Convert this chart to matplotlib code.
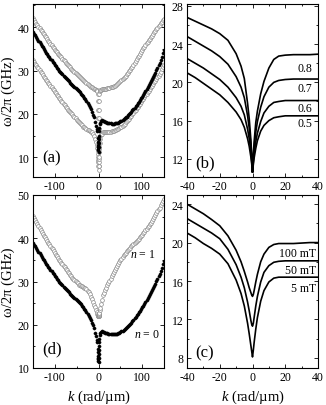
import matplotlib
matplotlib.use("Agg")
import matplotlib.pyplot as plt
from matplotlib.ticker import MultipleLocator
import numpy as np

plt.rcParams['font.family'] = ['Liberation Serif', 'DejaVu Serif']
plt.rcParams['mathtext.fontset'] = 'custom'
plt.rcParams['mathtext.rm'] = 'Liberation Serif'
plt.rcParams['mathtext.it'] = 'Liberation Serif:italic'
plt.rcParams['axes.unicode_minus'] = False

# ---------------- data: panels (a) and (d) ----------------
# wave-vector sampling (rad/um): left branch, central region, right branch
K_LEFT = list(np.arange(-150, -9.9, 2.5))
K_MID = [-8, -6, -4, -3, -2, -1.5, -1, -0.75, -0.5, -0.25, 0, 0.25, 0.5, 0.75, 1, 1.5, 2, 3, 4, 6, 8]
K_RIGHT = list(np.arange(10, 150.1, 2.5))
K_MARK = K_LEFT + K_MID + K_RIGHT

UPPER_A = [42.0, 41.6, 41.2, 40.8, 40.4, 40.05, 39.7, 39.35, 39.0, 38.65, 38.3, 37.95, 37.6, 37.25, 36.9,
           36.55, 36.2, 35.85, 35.5, 35.15, 34.8, 34.5, 34.2, 33.9, 33.6, 33.3, 33.0, 32.7, 32.4, 32.1,
           31.8, 31.55, 31.3, 31.0, 30.7, 30.45, 30.2, 29.95, 29.7, 29.45, 29.2, 28.95, 28.7, 28.45, 28.2,
           28.0, 27.8, 27.55, 27.3, 27.1, 26.9, 26.7, 26.5, 26.3, 26.1, 25.95, 25.8,
           25.7, 25.6, 25.5, 25.3, 24.5, 23.0, 21.0, 19.0, 16.5, 12.5, 8.0, 12.5, 16.5, 19.0, 21.0, 23.0, 24.5, 25.3, 25.5, 25.6, 25.7,
           25.7, 25.75, 25.8, 25.85, 25.9, 25.95, 26.0, 26.1, 26.2, 26.3, 26.4, 26.55, 26.7, 26.9, 27.1,
           27.3, 27.5, 27.75, 28.0, 28.25, 28.5, 28.8, 29.1, 29.45, 29.8, 30.15, 30.5, 30.9, 31.3, 31.7,
           32.1, 32.55, 33.0, 33.45, 33.9, 34.3, 34.7, 35.1, 35.5, 35.9, 36.3, 36.65, 37.0, 37.35, 37.7,
           38.05, 38.4, 38.75, 39.1, 39.45, 39.8, 40.15, 40.5, 40.85, 41.2, 41.55, 41.9]

LOWER_A = [32.4, 32.0, 31.6, 31.25, 30.9, 30.5, 30.1, 29.75, 29.4, 29.0, 28.6, 28.25, 27.9, 27.55, 27.2,
           26.85, 26.5, 26.15, 25.8, 25.45, 25.1, 24.75, 24.4, 24.05, 23.7, 23.35, 23.0, 22.65, 22.3, 21.95,
           21.6, 21.3, 21.0, 20.7, 20.4, 20.15, 19.9, 19.6, 19.3, 19.0, 18.7, 18.45, 18.2, 17.9, 17.6,
           17.35, 17.1, 16.9, 16.7, 16.55, 16.4, 16.25, 16.1, 15.95, 15.8, 15.45, 15.0,
           14.3, 13.6, 12.8, 12.2, 11.4, 10.8, 10.0, 9.5, 8.9, 8.0, 7.0, 8.0, 8.9, 9.6, 10.2, 11.2, 12.0, 13.3, 14.2, 15.1, 15.5,
           15.8, 15.8, 15.8, 15.8, 15.8, 15.85, 15.9, 15.95, 16.0, 16.05, 16.1, 16.2, 16.3, 16.45, 16.6,
           16.75, 16.9, 17.1, 17.3, 17.55, 17.8, 18.05, 18.3, 18.6, 18.9, 19.25, 19.6, 19.95, 20.3, 20.65,
           21.0, 21.35, 21.7, 22.05, 22.4, 22.75, 23.1, 23.5, 23.9, 24.25, 24.6, 24.95, 25.3, 25.7, 26.1,
           26.5, 26.9, 27.25, 27.6, 28.0, 28.4, 28.8, 29.2, 29.75, 30.3, 30.8, 31.3]

N0 = [38.9, 38.5, 38.1, 37.7, 37.3, 36.9, 36.5, 36.1, 35.7, 35.3, 34.9, 34.5, 34.1, 33.75, 33.4,
      33.05, 32.7, 32.35, 32.0, 31.65, 31.3, 30.95, 30.6, 30.3, 30.0, 29.7, 29.4, 29.1, 28.8, 28.55,
      28.3, 28.05, 27.8, 27.5, 27.2, 26.95, 26.7, 26.45, 26.2, 25.95, 25.7, 25.45, 25.2, 24.95, 24.7,
      24.4, 24.1, 23.75, 23.4, 23.0, 22.6, 22.1, 21.6, 21.05, 20.5, 19.85, 19.2,
      18.2, 17.3, 16.5, 16.0, 14.5, 13.6, 12.8, 12.4, 12.0, 11.6, 11.3, 12.3, 13.3, 14.2, 15.0, 16.0, 16.8, 17.6, 18.0, 18.4, 18.5,
      18.4, 18.3, 18.2, 18.1, 18.0, 17.95, 17.9, 17.85, 17.8, 17.8, 17.8, 17.85, 17.9, 17.95, 18.0,
      18.15, 18.3, 18.45, 18.6, 18.8, 19.0, 19.2, 19.4, 19.7, 20.0, 20.25, 20.5, 20.8, 21.1, 21.45,
      21.8, 22.15, 22.5, 22.85, 23.2, 23.6, 24.0, 24.4, 24.8, 25.25, 25.7, 26.15, 26.6, 27.05, 27.5,
      28.0, 28.5, 29.0, 29.5, 30.05, 30.6, 31.2, 31.8, 32.5, 33.2, 34.0, 34.8]

N1 = [45.2, 44.7, 44.2, 43.75, 43.3, 42.85, 42.4, 41.95, 41.5, 41.05, 40.6, 40.2, 39.8, 39.4, 39.0,
      38.6, 38.2, 37.8, 37.4, 37.0, 36.6, 36.2, 35.8, 35.4, 35.0, 34.65, 34.3, 33.95, 33.6, 33.25,
      32.9, 32.55, 32.2, 31.85, 31.5, 31.2, 30.9, 30.6, 30.3, 30.05, 29.8, 29.55, 29.3, 29.15, 29.0,
      28.85, 28.7, 28.55, 28.4, 28.2, 27.9, 27.5, 27.0, 26.5, 25.9, 25.3, 24.6,
      24.0, 23.4, 22.9, 22.6, 22.3, 22.2, 22.1, 22.05, 22.0, 22.0, 22.0, 22.05, 22.1, 22.2, 22.3, 22.5, 22.8, 23.3, 23.8, 24.8, 25.8,
      26.8, 27.4, 28.0, 28.55, 29.1, 29.6, 30.1, 30.65, 31.2, 31.7, 32.2, 32.7, 33.2, 33.65, 34.1,
      34.5, 34.9, 35.3, 35.7, 36.05, 36.4, 36.7, 37.0, 37.3, 37.6, 37.85, 38.1, 38.35, 38.6, 38.85,
      39.1, 39.35, 39.6, 39.9, 40.2, 40.5, 40.8, 41.15, 41.5, 41.85, 42.2, 42.55, 42.9, 43.25, 43.6,
      44.0, 44.4, 44.85, 45.3, 45.75, 46.2, 46.65, 47.1, 47.6, 48.1, 48.6, 49.1]

# ---------------- data: panels (b) and (c) ----------------
K_LINE = [-40, -35, -30, -25, -20, -15, -10, -7, -5, -3, -2, -1, -0.5, 0, 0.5, 1, 2, 3, 5, 7, 10, 13, 16, 20, 25, 30, 35, 40]

B_LABELS = ['0.8', '0.7', '0.6', '0.5']
B_08 = [26.8, 26.4, 26.0, 25.6, 25.1, 24.4, 23.0, 21.7, 20.4, 17.8, 16.2, 14.0, 12.5, 10.6, 12.4, 13.8, 15.8, 17.0, 18.8, 20.1, 21.5, 22.4, 22.75, 22.85, 22.9, 22.9, 22.9, 22.95]
B_07 = [24.8, 24.3, 23.8, 23.3, 22.7, 21.9, 20.6, 19.5, 18.4, 16.5, 15.2, 13.5, 12.2, 10.6, 12.0, 13.2, 14.8, 15.9, 17.4, 18.5, 19.5, 20.0, 20.2, 20.3, 20.35, 20.35, 20.35, 20.35]
B_06 = [22.5, 22.0, 21.5, 20.9, 20.3, 19.5, 18.4, 17.5, 16.6, 15.1, 14.1, 12.8, 11.8, 10.6, 11.7, 12.6, 13.8, 14.7, 15.9, 16.8, 17.5, 17.9, 18.0, 18.1, 18.1, 18.1, 18.1, 18.1]
B_05 = [21.0, 20.5, 19.9, 19.3, 18.7, 17.9, 16.9, 16.1, 15.3, 14.1, 13.3, 12.2, 11.5, 10.6, 11.4, 12.1, 13.1, 13.9, 14.9, 15.5, 16.0, 16.3, 16.4, 16.5, 16.5, 16.5, 16.5, 16.5]
B_LABEL_Y = [21.5, 19.4, 17.3, 15.75]

C_LABELS = ['100 mT', '50 mT', '5 mT']
C_100 = [24.0, 23.5, 23.0, 22.4, 21.75, 20.7, 19.2, 18.0, 17.0, 15.9, 15.3, 14.8, 14.55, 14.4, 14.6, 15.0, 15.9, 16.7, 18.0, 18.8, 19.5, 19.8, 19.9, 19.9, 19.9, 19.95, 20.0, 20.0]
C_50 = [22.5, 22.0, 21.5, 21.0, 20.4, 19.3, 17.7, 16.4, 15.3, 13.8, 12.9, 11.9, 11.5, 11.3, 11.6, 12.2, 13.4, 14.4, 15.9, 16.9, 17.6, 17.95, 18.05, 18.1, 18.1, 18.1, 18.1, 18.1]
C_5 = [21.0, 20.5, 19.9, 19.4, 18.8, 17.8, 16.1, 14.7, 13.4, 11.6, 10.5, 9.3, 8.7, 8.1, 8.8, 9.6, 11.0, 12.2, 13.9, 15.0, 15.9, 16.3, 16.4, 16.4, 16.4, 16.4, 16.4, 16.4]
C_LABEL_Y = [18.9, 17.15, 15.3]

# ---------------- figure ----------------
fig = plt.figure(figsize=(3.26, 4.06), dpi=100)
W, H = 326.0, 406.0

def axes_px(x0, x1, y0, y1):
    return fig.add_axes([x0 / W, 1 - y1 / H, (x1 - x0) / W, (y1 - y0) / H])

ax_a = axes_px(33, 164, 5, 178)
ax_b = axes_px(187, 318, 5, 178)
ax_d = axes_px(33, 164, 196, 369)
ax_c = axes_px(187, 318, 196, 369)

TICK_FS = 8.5
LAB_FS = 10.5
PANEL_FS = 12
ANN_FS = 8.5

def style(ax, xmaj, xmin, ymaj, ymin):
    ax.xaxis.set_major_locator(MultipleLocator(xmaj))
    ax.xaxis.set_minor_locator(MultipleLocator(xmin))
    ax.yaxis.set_major_locator(MultipleLocator(ymaj))
    ax.yaxis.set_minor_locator(MultipleLocator(ymin))
    ax.tick_params(which='both', direction='in', top=True, right=True, width=0.6,
                   labelsize=TICK_FS, pad=2.5)
    ax.tick_params(which='major', length=2.6)
    ax.tick_params(which='minor', length=1.6)
    for s in ax.spines.values():
        s.set_linewidth(0.8)

gray_kw = dict(linestyle='none', marker='o', markersize=2.7, markerfacecolor='white',
               markeredgecolor='#8a8a8a', markeredgewidth=0.5)
black_kw = dict(linestyle='none', marker='o', markersize=2.3, markerfacecolor='black',
                markeredgecolor='black', markeredgewidth=0.3)

# (a)
ax_a.plot(K_MARK, UPPER_A, **gray_kw)
ax_a.plot(K_MARK, LOWER_A, **gray_kw)
ax_a.plot(K_MARK, N0, **black_kw)
ax_a.set_xlim(-150, 150)
ax_a.set_ylim(5.5, 45.3)
style(ax_a, 100, 50, 10, 5)
ax_a.text(-107, 10.1, '(a)', fontsize=PANEL_FS, ha='center', va='center')
ax_a.set_ylabel('ω/2π (GHz)', fontsize=LAB_FS)
ax_a.yaxis.set_label_coords(-0.135, 0.5)

# (d)
ax_d.plot(K_MARK, N1, **gray_kw)
ax_d.plot(K_MARK, N0, **black_kw)
ax_d.set_xlim(-150, 150)
ax_d.set_ylim(10, 50)
style(ax_d, 100, 50, 10, 5)
ax_d.text(-106, 14.5, '(d)', fontsize=PANEL_FS, ha='center', va='center')
ax_d.text(102.5, 36.4, '$n$ = 1', fontsize=ANN_FS, ha='center', va='center')
ax_d.text(112, 17.9, '$n$ = 0', fontsize=ANN_FS, ha='center', va='center')
ax_d.set_ylabel('ω/2π (GHz)', fontsize=LAB_FS)
ax_d.yaxis.set_label_coords(-0.135, 0.5)
ax_d.set_xlabel('$k$ (rad/µm)', fontsize=LAB_FS)
ax_d.xaxis.set_label_coords(0.5, -0.115)

# (b)
for ys in (B_08, B_07, B_06, B_05):
    ax_b.plot(K_LINE, ys, color='black', lw=1.2)
for lab, yl in zip(B_LABELS, B_LABEL_Y):
    ax_b.text(32, yl, lab, fontsize=ANN_FS, ha='center', va='center')
ax_b.set_xlim(-40, 40)
ax_b.set_ylim(10.1, 28.2)
style(ax_b, 20, 10, 4, 2)
ax_b.text(-29, 11.6, '(b)', fontsize=PANEL_FS, ha='center', va='center')

# (c)
for ys in (C_100, C_50, C_5):
    ax_c.plot(K_LINE, ys, color='black', lw=1.2)
for lab, yl in zip(C_LABELS, C_LABEL_Y):
    ax_c.text(38.8, yl, lab, fontsize=ANN_FS, ha='right', va='center')
ax_c.set_xlim(-40, 40)
ax_c.set_ylim(6.95, 24.95)
style(ax_c, 20, 10, 4, 2)
ax_c.text(-29.5, 8.6, '(c)', fontsize=PANEL_FS, ha='center', va='center')
ax_c.set_xlabel('$k$ (rad/µm)', fontsize=LAB_FS)
ax_c.xaxis.set_label_coords(0.5, -0.115)

fig.savefig('out.png', dpi=100)
